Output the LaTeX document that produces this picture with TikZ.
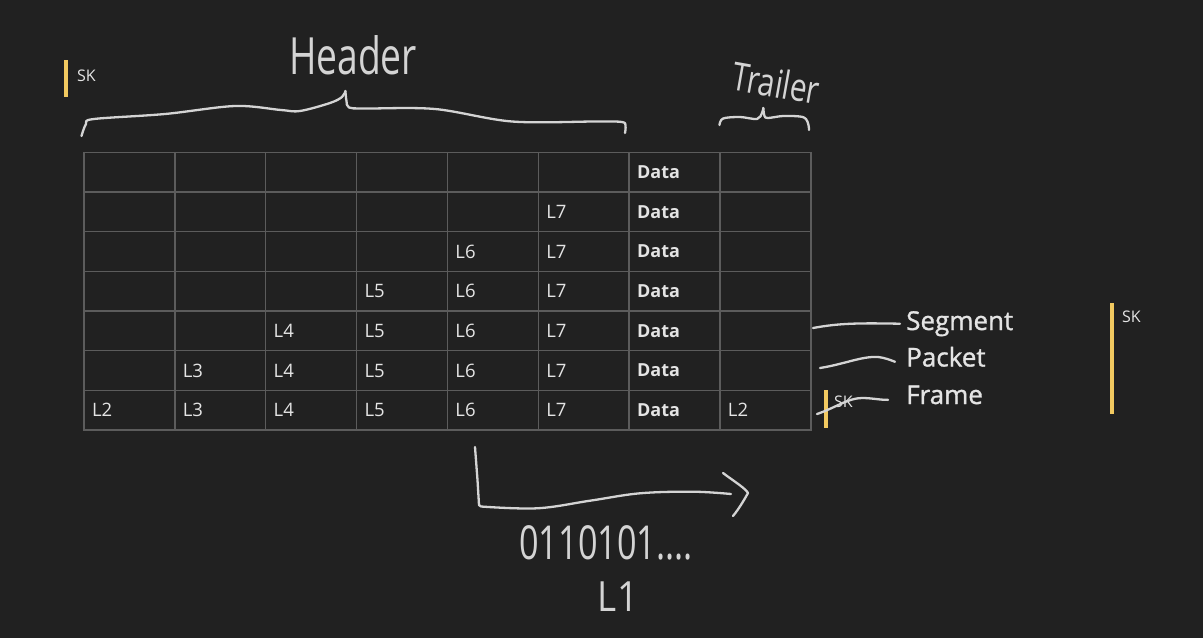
\documentclass[tikz,border=0pt]{standalone}
\usepackage{fontspec}
\setmainfont{Open Sans}
\newfontfamily\semib[FakeBold=1.2]{Open Sans}
\definecolor{bg}{RGB}{33,33,33}
\definecolor{gridc}{RGB}{92,92,92}
\definecolor{txt}{RGB}{228,228,228}
\definecolor{ink}{RGB}{212,212,212}
\definecolor{skc}{RGB}{242,201,96}
\begin{document}
\begin{tikzpicture}[x=1pt,y=-1pt,
  cell/.style={draw=gridc, line width=1.4pt, anchor=north west,
    minimum height=39.7pt, inner xsep=8pt, inner ysep=0pt,
    text width=74.85pt, align=left, text=txt,
    font=\fontsize{18.5}{18.5}\selectfont},
  layerlab/.style={anchor=base west, inner sep=0pt, text=txt,
    font=\semib\fontsize{26}{26}\selectfont},
  sklab/.style={anchor=base west, inner sep=0pt, text=txt,
    font=\fontsize{16}{16}\selectfont},
  skbar/.style={fill=skc},
  hand/.style={text=ink, inner sep=0pt},
  inkline/.style={draw=ink, line width=2.3pt, line cap=round, line join=round}]
\useasboundingbox (0,0) rectangle (1203,638);
\fill[bg] (0,0) rectangle (1203,638);

% table
\foreach \r in {0,...,6} {
  \foreach \c in {0,...,7} {
    \pgfmathtruncatemacro\lay{\c+2}
    \node[cell] (c-\r-\c) at ({83.3+\c*90.85},{151.5+\r*39.7})
      {\ifnum\c<6 \ifnum\numexpr\c+\r\relax>5 L\lay\fi\fi
       \ifnum\c=6 {\fontsize{18}{18}\selectfont\bfseries Data}\fi
       \ifnum\c=7 \ifnum\r=6 L2\fi\fi};
  }
}

% SK markers
\fill[skbar] (64,60) rectangle (68,97);
\node[sklab] (sk1) at (77,81) {SK};
\fill[skbar] (1110,303) rectangle (1114,414);
\node[sklab] (sk2) at (1122,322) {SK};
\fill[skbar] (823.5,390) rectangle (827.5,428);
\node[sklab] (sk3) at (834,407) {SK};

% layer names
\node[layerlab] (seg) at (906,330) {Segment};
\node[layerlab] (pkt) at (906,366.5) {Packet};
\node[layerlab] (frm) at (906,404) {Frame};

\coordinate (s0) at (813,328);
\coordinate (p0) at (820,368);
\coordinate (f0) at (817,414);
\draw[inkline] (s0) .. controls (840,323) and (860,323) .. ([xshift=-6pt]seg.west);
\draw[inkline] (p0) .. controls (845,364) and (862,356) .. (878,357) .. controls (886,358) and (890,360) .. ([xshift=-11pt,yshift=-5pt]pkt.west);
\draw[inkline] (f0) .. controls (835,408) and (848,398) .. (862,398) .. controls (872,398) and (880,400) .. ([xshift=-18pt,yshift=-5pt]frm.west);

% Header brace
\draw[inkline] plot[smooth, tension=0.55] coordinates {(81.5,136) (86,124) (94,119) (165,114) (235,106) (281,110) (300,111) (330,103) (342,97) (345.4,91)};
\draw[inkline] plot[smooth, tension=0.55] coordinates {(345.4,91) (346.5,101) (349,107.5) (365,108.5) (435,109) (512,121.5) (596,121.5) (622,122) (625.5,126) (625,133)};
\node[hand] (hdr) at (353,55) {\fontsize{38}{38}\selectfont\scalebox{0.98}[1.35]{Header}};

% Trailer brace
\draw[inkline] plot[smooth, tension=0.55] coordinates {(719.5,125) (723,118.5) (740,117) (757,119) (762,113) (763.3,108)};
\draw[inkline] plot[smooth, tension=0.55] coordinates {(763.3,108) (764.5,116) (768,118) (783,116) (800,116.5) (806,119) (808.5,125) (809,130)};
\node[hand, rotate=-10] (trl) at (776,83) {\fontsize{30}{30}\selectfont\scalebox{1}[1.3]{Trailer}};

% L1 arrow
\coordinate (a0) at (475,447);
\coordinate (a1) at (479,505);
\coordinate (a2) at (731,494);
\draw[inkline] (a0) -- (477.5,480) -- (a1) -- plot[smooth, tension=0.6] coordinates {(481,506.5) (537,508.3) (590,500.7) (640,493.3) (693,491.7) (731,494)};
\draw[inkline] (723,473) .. controls (735,482) and (745,488) .. (748,493) .. controls (743,502) and (738,510) .. (733,516);
\node[hand] (bits) at (606,543) {\fontsize{36}{36}\selectfont\scalebox{0.95}[1.3]{0110101....}};
\node[hand] (l1) at (618,597) {\fontsize{32}{32}\selectfont\scalebox{1.15}[1.3]{L1}};
\end{tikzpicture}
\end{document}
